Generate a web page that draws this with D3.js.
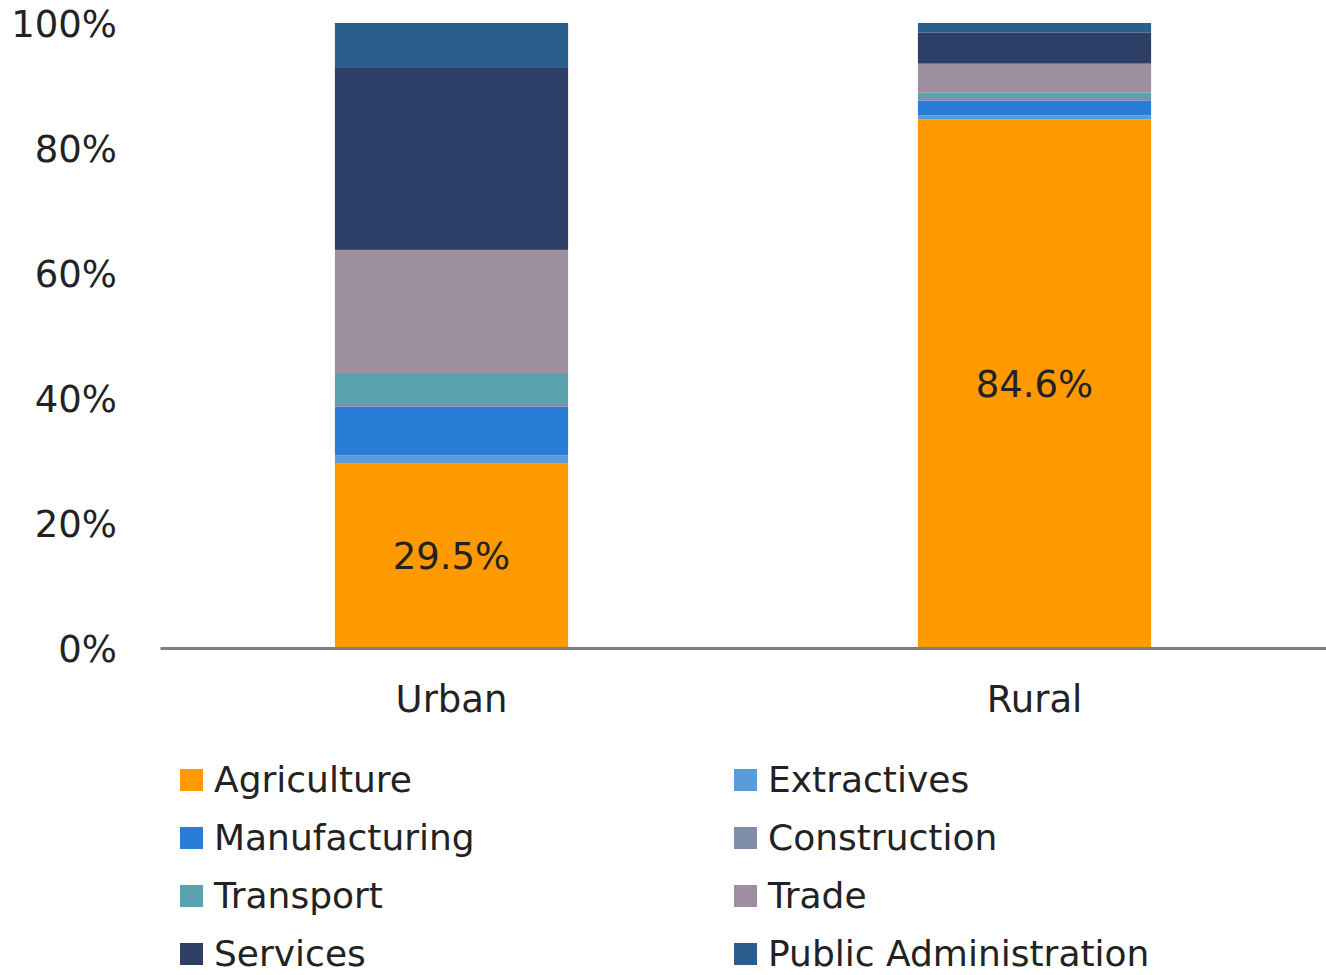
<!DOCTYPE html>
<html>
<head>
<meta charset="utf-8">
<script src="https://cdn.jsdelivr.net/npm/d3@7.9.0/dist/d3.min.js"></script>
<style>
  body { margin: 0; background: #fff; }
  svg text { font-family: "DejaVu Sans", sans-serif; fill: #222; }
</style>
</head>
<body>
<svg width="1326" height="975"></svg>
<script>
// values (share of employment, %)
const areas = ['Urban', 'Rural'];
const sectors = ['Agriculture', 'Extractives', 'Manufacturing', 'Construction',
                 'Transport', 'Trade', 'Services', 'Public Administration'];
const urban = [29.5, 1.3, 7.8, 0.6, 4.8, 19.7, 29.1, 7.2];
const rural = [84.6, 0.6, 2.4, 0.4, 0.9, 4.6, 5.0, 1.5];
const sectorColors = ['#ff9900', '#5b9bd8', '#2a7dd6', '#7f8fa9',
                      '#5aa2ae', '#9d8fa0', '#2d3e67', '#2a5f8d'];
const yTicks = [0, 20, 40, 60, 80, 100];

const svg = d3.select('svg');
const plotLeft = 160, plotRight = 1326, plotTop = 23, plotBottom = 648;

let rows = areas.map((a, i) => {
    let row = { area: a };
    let vals = i === 0 ? urban : rural;
    sectors.forEach((s, j) => { row[s] = vals[j]; });
    return row;
});

let x = d3.scaleBand()
    .domain(areas)
    .range([plotLeft, plotRight])
    .paddingInner(0.6)
    .paddingOuter(0.3);

let y = d3.scaleLinear()
    .domain([0, 100])
    .range([plotBottom, plotTop]);

let color = d3.scaleOrdinal().domain(sectors).range(sectorColors);

let stacked = d3.stack().keys(sectors)(rows);

svg.append('g')
  .selectAll('g')
  .data(stacked)
  .join('g')
    .attr('fill', (d) => color(d.key))
  .selectAll('rect')
  .data((d) => d)
  .join('rect')
    .attr('x', (d) => x(d.data.area))
    .attr('width', x.bandwidth())
    .attr('y', (d) => y(d[1]))
    .attr('height', (d) => y(d[0]) - y(d[1]));

// labels on agriculture
svg.append('g')
  .selectAll('text')
  .data(stacked[0])
  .join('text')
    .attr('x', (d) => x(d.data.area) + x.bandwidth() / 2)
    .attr('y', (d) => y((d[0] + d[1]) / 2))
    .attr('dy', '0.36em')
    .attr('text-anchor', 'middle')
    .attr('font-size', 37)
    .text((d) => d3.format('.1f')(d[1] - d[0]) + '%');

// y axis labels
let yAxis = svg.append('g')
    .attr('transform', `translate(${plotLeft - 40},0)`)
    .call(d3.axisLeft(y).tickValues(yTicks).tickSize(0).tickFormat((d) => d + '%'));
yAxis.select('.domain').remove();
yAxis.selectAll('text')
    .attr('font-size', 37)
    .attr('font-family', '"DejaVu Sans", sans-serif')
    .attr('fill', '#222')
    .attr('dy', '0.36em');

// x axis
let xAxis = svg.append('g')
    .attr('transform', `translate(0,${plotBottom})`)
    .call(d3.axisBottom(x).tickSize(0).tickPadding(38));
xAxis.select('.domain')
    .attr('stroke', '#7f7f7f')
    .attr('stroke-width', 3);
xAxis.selectAll('text')
    .attr('font-size', 37)
    .attr('font-family', '"DejaVu Sans", sans-serif')
    .attr('fill', '#222');

// legend, two columns
let legend = svg.append('g');
let items = legend.selectAll('g')
  .data(sectors)
  .join('g')
    .attr('transform', (d, i) => `translate(${i % 2 === 0 ? 180 : 734},${780 + Math.floor(i / 2) * 58})`);
items.append('rect')
    .attr('x', 0)
    .attr('y', -11)
    .attr('width', 23)
    .attr('height', 22)
    .attr('fill', (d) => color(d));
items.append('text')
    .attr('x', 34)
    .attr('dy', '0.34em')
    .attr('font-size', 36)
    .text((d) => d);
</script>
</body>
</html>
